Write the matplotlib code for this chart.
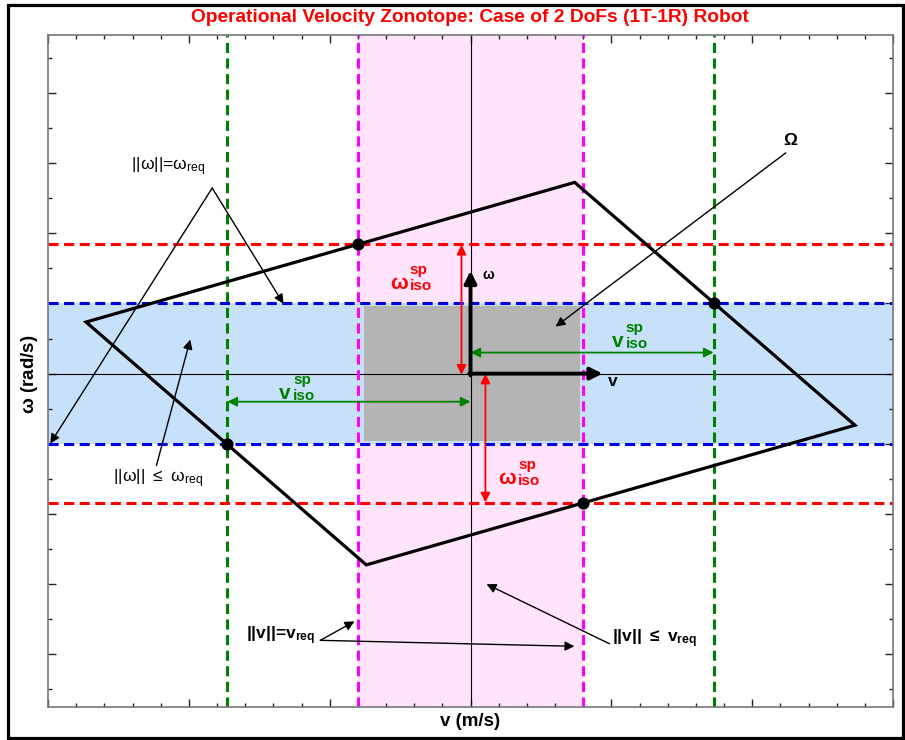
import numpy as np
import matplotlib.pyplot as plt
from matplotlib.patches import Rectangle, Polygon
from matplotlib.ticker import MultipleLocator

plt.rcParams['font.family'] = ['Liberation Sans', 'DejaVu Sans']
plt.rcParams['mathtext.fontset'] = 'custom'
plt.rcParams['mathtext.default'] = 'regular'

# zonotope (v, w) corners
zono_v = [-13.65, 3.7, 13.65, -3.7]
zono_w = [1.47, 5.45, -1.47, -5.45]

# required / isotropic limits
v_req = 4.0      # magenta lines, pink band
w_req = 2.0      # blue lines, light blue band
v_iso = 8.63     # green lines
w_iso = 3.7      # red lines

# gray inner box
box_v = [-3.77, 3.87]
box_w = [-1.91, 1.93]

# contact points
dot_v = [-4.0, -8.63, 8.63, 4.0]
dot_w = [3.7, -2.0, 2.0, -3.7]

# isotropic arrows (start, end) and their fixed coordinate
red_arrow_v = [-0.32, 0.53]
red_arrow_w = [(3.67, -0.03), (0.0, -3.67)]
green_arrow_w = [-0.8, 0.6]
green_arrow_v = [(-8.63, 0.0), (0.0, 8.63)]

# isotropic labels: base, position, colour
iso_labels = [
    ('\u03c9', (-2.2, 2.72), 'red'),
    ('\u03c9', (1.65, -2.83), 'red'),
    ('v', (-6.35, -0.42), '#008000'),
    ('v', (5.45, 1.08), '#008000'),
]

# annotations: text, text pos, tail, heads
notes = [
    (r'$||\omega||$=$\omega_{req}$', (-10.73, 5.89), (-9.17, 5.29), [(-14.92, -1.99), (-6.64, 1.99)], 'normal'),
    (r'$||\omega||$ $\leq$ $\omega_{req}$', (-11.1, -2.98), (-11.15, -2.62), [(-9.95, 0.97)], 'normal'),
    (r'$\Omega$', (11.37, 6.66), (11.19, 6.29), [(3.02, 1.34)], 'bold'),
    (r'$||v||$=$v_{req}$', (-6.75, -7.48), (-5.33, -7.6), [(-4.12, -7.06), (3.69, -7.77)], 'bold'),
    (r'$||v||$ $\leq$ $v_{req}$', (6.55, -7.55), (4.94, -7.7), [(0.57, -6.0)], 'bold'),
]

fig = plt.figure(figsize=(9.05, 7.4), dpi=100)
ax = fig.add_axes([48/905, 1-707/740, 845/905, 672/740])
ax.set_xlim(-15, 15)
ax.set_ylim(-9.5, 9.65)

pink = '#FFE4FB'
lblue = '#C8E1FA'
ax.axvspan(-v_req, v_req, color=pink, lw=0, zorder=0)
ax.axhspan(-w_req, w_req, color=lblue, lw=0, zorder=1)
ax.add_patch(Rectangle((box_v[0], box_w[0]), box_v[1]-box_v[0], box_w[1]-box_w[0],
                       color='#B4B4B4', lw=0, zorder=2))

ax.axhline(0, color='k', lw=0.8, zorder=3)
ax.axvline(0, color='k', lw=0.8, zorder=3)

dash = dict(lw=2.2, dashes=(3.3, 1.8), zorder=4)
for s in (-1, 1):
    ax.axvline(s*v_iso, color='#008000', **dash)
    ax.axvline(s*v_req, color='#FF00FF', **dash)
    ax.axhline(s*w_iso, color='#FF0000', **dash)
    ax.axhline(s*w_req, color='#0000E6', **dash)

ax.add_patch(Polygon(np.column_stack([zono_v, zono_w]), closed=True, fill=False,
                     ec='k', lw=2.3, zorder=6))
ax.scatter(dot_v, dot_w, s=60, color='k', zorder=7)

# red double arrows
for v, (a, b) in zip(red_arrow_v, red_arrow_w):
    ax.annotate('', xy=(v, b), xytext=(v, a),
                arrowprops=dict(arrowstyle='<|-|>', color='red', lw=1.3,
                                mutation_scale=14, shrinkA=0, shrinkB=0), zorder=8)
# green double arrows
for w, (a, b) in zip(green_arrow_w, green_arrow_v):
    ax.annotate('', xy=(b, w), xytext=(a, w),
                arrowprops=dict(arrowstyle='<|-|>', color='#008000', lw=1.3,
                                mutation_scale=14, shrinkA=0, shrinkB=0), zorder=8)

for base, pos, col in iso_labels:
    ax.annotate(base, xy=pos, xytext=(-0.5, -4), textcoords='offset points',
                color=col, fontsize=15, fontweight='bold', ha='right', va='center', zorder=9)
    ax.annotate('sp\niso', xy=pos, xytext=(1, 0), textcoords='offset points',
                color=col, fontsize=11, fontweight='bold', ha='left', va='center',
                multialignment='left', linespacing=1.2, zorder=9)

# local frame arrows
ax.annotate('', xy=(0, 2.93), xytext=(0, -0.05),
            arrowprops=dict(arrowstyle='-|>', color='k', lw=2.8,
                            mutation_scale=18, shrinkA=0, shrinkB=0), zorder=8)
ax.annotate('', xy=(4.69, 0), xytext=(-0.05, 0),
            arrowprops=dict(arrowstyle='-|>', color='k', lw=2.8,
                            mutation_scale=18, shrinkA=0, shrinkB=0), zorder=8)
ax.text(0.64, 2.82, r'$\omega$', fontsize=10, fontweight='bold', ha='center', va='center', zorder=9)
ax.text(5.04, -0.23, 'v', fontsize=12.5, fontweight='bold', ha='center', va='center', zorder=9)

for txt, pos, tail, heads, wt in notes:
    ax.text(pos[0], pos[1], txt, fontsize=12.5, fontweight=wt, ha='center', va='center', zorder=9)
    for h in heads:
        ax.annotate('', xy=h, xytext=tail,
                    arrowprops=dict(arrowstyle='-|>', color='k', lw=1.0,
                                    mutation_scale=14, shrinkA=0, shrinkB=0), zorder=8)

ax.xaxis.set_major_locator(MultipleLocator(5))
ax.xaxis.set_minor_locator(MultipleLocator(1))
ax.yaxis.set_major_locator(MultipleLocator(2))
ax.yaxis.set_minor_locator(MultipleLocator(1))
ax.tick_params(which='both', direction='in', top=True, right=True,
               labelbottom=False, labelleft=False, color='#222222', width=1)
ax.tick_params(which='major', length=6)
ax.tick_params(which='minor', length=3)
for sp in ax.spines.values():
    sp.set_color('#777777')
    sp.set_linewidth(1.2)
    sp.set_zorder(10)

fig.text(470/905, 1-17/740, 'Operational Velocity Zonotope: Case of 2 DoFs (1T-1R) Robot',
         color='red', fontsize=13.8, fontweight='bold', ha='center', va='center')
fig.text(470/905, 1-722/740, 'v (m/s)', fontsize=13.5, fontweight='bold', ha='center', va='center')
fig.text(30/905, 1-374/740, r'$\omega$ (rad/s)', fontsize=13.5, fontweight='bold',
         ha='center', va='center', rotation=90)

fig.add_artist(Rectangle((8/905, 2/740), 895/905, 733/740, transform=fig.transFigure,
                         fill=False, ec='k', lw=2.3))

fig.savefig('out.png', dpi=100)
